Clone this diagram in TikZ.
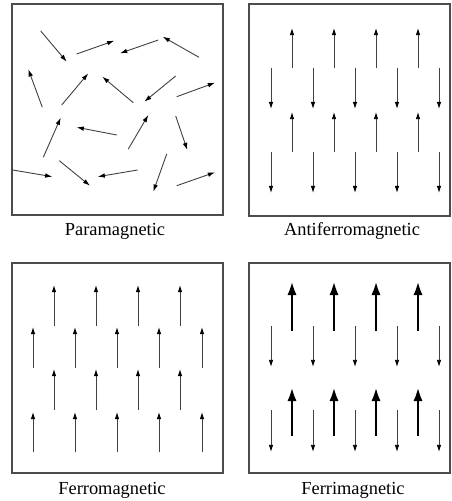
\documentclass[tikz,border=0pt]{standalone}
\usepackage{fontspec}
\setmainfont{Liberation Serif}
\usetikzlibrary{arrows.meta}

\begin{document}
\begin{tikzpicture}[x=0.5pt,y=-0.5pt,
    panel/.style={draw=black!70,line width=0.8pt},
    spin/.style={draw=black!75,line width=0.45pt,
                 -{Latex[length=3.6pt,width=2.3pt,color=black]}},
    bigspin/.style={draw=black,line width=1.4pt,-{Latex[length=7pt,width=4.6pt]}},
    lbl/.style={anchor=base,font=\fontsize{9.2}{11}\selectfont}
  ]
    \useasboundingbox (0,0) rectangle (451,501);
    % panels
    \draw[panel] (12,4) rectangle (223,215);
    \draw[panel] (249,4) rectangle (450,216);
    \draw[panel] (12,263) rectangle (223,473);
    \draw[panel] (249,263) rectangle (450,473);
    \node[lbl] (para) at (115,236) {Paramagnetic};
    \node[lbl] (anti) at (352,236) {Antiferromagnetic};
    \node[lbl] (ferro) at (112,494) {Ferromagnetic};
    \node[lbl] (ferri) at (353,494) {Ferrimagnetic};
    % paramagnetic: random directions
    \foreach \a/\b/\c/\d in {40.7/31/66.7/61.7, 76.7/54/114.3/40.7,
        158.3/40/120/53.3, 199/57.3/162.7/36.7, 42.3/107.3/28.3/69.3,
        61.7/105/88.3/73.3, 133.3/102.7/102.3/76.7, 175.7/76/144.3/101.7,
        176.7/96.7/215/82.7, 43.3/157.3/60.7/117.7, 116.7/135/76.7/127.3,
        128.3/149/148.3/115, 175.7/116/187.3/150, 12.7/170/52.3/176.7,
        59.3/160.7/90/185.7, 137.7/170/97.7/176.7, 166.7/154/153.3/191.7,
        176.7/185.7/215/172.3}
      \draw[spin] (\a,\b) -- (\c,\d);
    % antiferromagnetic
    \foreach \x in {292,334,376,418} {
      \draw[spin] (\x,68) -- (\x,28);
      \draw[spin] (\x,152) -- (\x,112);
    }
    \foreach \x in {271,313,355,397,439} {
      \draw[spin] (\x,68) -- (\x,109);
      \draw[spin] (\x,152) -- (\x,193);
    }
    % ferromagnetic
    \foreach \x in {54,96,138,180} {
      \draw[spin] (\x,326) -- (\x,285);
      \draw[spin] (\x,410) -- (\x,369);
    }
    \foreach \x in {33,75,117,159,202} {
      \draw[spin] (\x,368) -- (\x,327);
      \draw[spin] (\x,452) -- (\x,412);
    }
    % ferrimagnetic
    \foreach \x in {292,334,376,418} {
      \draw[bigspin] (\x,331) -- (\x,281);
      \draw[bigspin] (\x,436) -- (\x,387);
    }
    \foreach \x in {271,313,355,397,439} {
      \draw[spin] (\x,326) -- (\x,367);
      \draw[spin] (\x,410) -- (\x,452);
    }
\end{tikzpicture}
\end{document}
